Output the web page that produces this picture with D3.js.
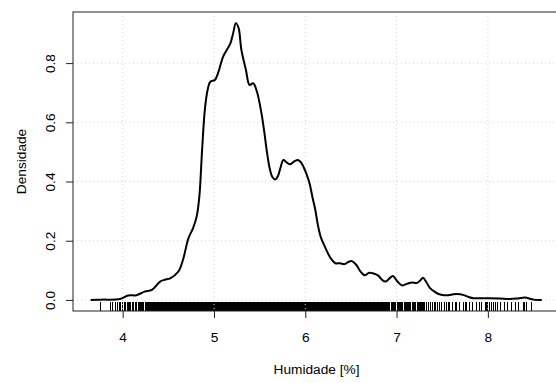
<!DOCTYPE html>
<html>
<head>
<meta charset="utf-8">
<script src="https://cdn.jsdelivr.net/npm/d3@7"></script>
<style>
  body { margin: 0; background: #fff; }
  svg { display: block; }
  text { font-family: "Liberation Sans", Arial, Helvetica, sans-serif; fill: #000; }
</style>
</head>
<body>
<svg id="chart" width="556" height="383"></svg>
<script>
// Kernel density estimate of humidity (%)
const densityX = [3.65, 3.77, 3.97, 4.06, 4.15, 4.24, 4.32, 4.41, 4.46, 4.52, 4.61, 4.66, 4.72, 4.77, 4.81,
  4.84, 4.87, 4.90, 4.93, 4.96, 5.01, 5.05, 5.10, 5.18, 5.21, 5.24, 5.27, 5.30, 5.35, 5.39, 5.43, 5.47,
  5.52, 5.55, 5.58, 5.61, 5.64, 5.67, 5.70, 5.73, 5.76, 5.79, 5.83, 5.88, 5.92, 5.95, 5.98, 6.02, 6.05,
  6.08, 6.11, 6.14, 6.17, 6.20, 6.23, 6.28, 6.33, 6.38, 6.43, 6.47, 6.51, 6.56, 6.60, 6.65, 6.70, 6.74,
  6.80, 6.84, 6.88, 6.92, 6.96, 7.01, 7.06, 7.12, 7.17, 7.22, 7.26, 7.29, 7.33, 7.37, 7.42, 7.46, 7.52,
  7.57, 7.62, 7.66, 7.73, 7.79, 7.84, 7.93, 8.02, 8.13, 8.24, 8.33, 8.41, 8.46, 8.50, 8.59];
const densityY = [0.000, 0.001, 0.003, 0.015, 0.016, 0.028, 0.034, 0.062, 0.068, 0.073, 0.096, 0.135, 0.208, 0.242, 0.281,
  0.350, 0.507, 0.642, 0.709, 0.737, 0.743, 0.771, 0.822, 0.867, 0.901, 0.935, 0.918, 0.845, 0.777, 0.726, 0.732, 0.704,
  0.631, 0.570, 0.500, 0.445, 0.415, 0.407, 0.418, 0.448, 0.473, 0.466, 0.458, 0.468, 0.473, 0.466, 0.450, 0.420, 0.390,
  0.345, 0.304, 0.250, 0.212, 0.190, 0.169, 0.140, 0.124, 0.124, 0.121, 0.128, 0.131, 0.118, 0.098, 0.083, 0.092, 0.090,
  0.082, 0.068, 0.062, 0.072, 0.081, 0.062, 0.049, 0.055, 0.059, 0.057, 0.066, 0.075, 0.058, 0.039, 0.027, 0.020, 0.016,
  0.016, 0.019, 0.020, 0.017, 0.010, 0.006, 0.006, 0.006, 0.005, 0.003, 0.005, 0.008, 0.004, 0.001, 0.000];

// Distinct observed humidity values, in hundredths of a percent
const observedHundredths = [376, 387, 389, 392, 394, 396, 398, 400,
  402, 403, 405, 406, 408, 409, 411, 412, 414, 415, 417, 418, 419, 421, 422, 423, 425, 426, 427, 428,
  429, 430, 431, 432, 433, 434, 435,
  436, 437, 438, 439, 440, 441, 442, 443, 444, 445, 446, 447, 448, 449,
  450, 451, 452, 453, 454, 455, 456, 457, 458, 459, 460, 461, 462, 463, 464, 465, 466, 467, 468, 469,
  470, 471, 472, 473, 474, 475, 476, 477, 478, 479, 480, 481, 482, 483, 484, 485, 486, 487, 488, 489,
  490, 491, 492, 493, 494, 495, 496, 497, 498, 499, 500, 501, 502, 503, 504, 505, 506, 507, 508, 509,
  510, 511, 512, 513, 514, 515, 516, 517, 518, 519, 520, 521, 522, 523, 524, 525, 526, 527, 528, 529,
  530, 531, 532, 533, 534, 535, 536, 537, 538, 539, 540, 541, 542, 543, 544, 545, 546, 547, 548, 549,
  550, 551, 552, 553, 554, 555, 556, 557, 558, 559, 560, 561, 562, 563, 564, 565, 566, 567, 568, 569,
  570, 571, 572, 573, 574, 575, 576, 577, 578, 579, 580, 581, 582, 583, 584, 585, 586, 587, 588, 589,
  590, 591, 592, 593, 594, 595, 596, 597, 598, 599, 600, 601, 602, 603, 604, 605, 606, 607, 608, 609,
  610, 611, 612, 613, 614, 615, 616, 617, 618, 619, 620, 621, 622, 623, 624, 625, 626, 627, 628, 629,
  630, 631, 632, 633, 634, 635, 636, 637, 638, 639, 640, 641, 642, 643, 644, 645, 646, 647, 648, 649,
  650, 651, 652, 653, 654, 655, 656, 657, 658, 659, 660, 661, 662, 663, 664, 665, 666, 667, 668, 669,
  670, 671, 672, 673, 674, 675, 676, 677, 678, 679, 680, 681, 682, 683, 684, 685, 686,
  687, 688, 689, 690, 691, 692, 694, 695, 696, 697, 698, 699, 701, 702, 703, 704, 705, 706, 707,
  709, 710, 711, 712, 713, 714, 715, 717, 718, 719, 720, 721, 723, 724, 725, 726, 727, 728, 729, 730,
  731, 733, 735, 737, 739, 741, 743, 745, 747,
  749, 752, 755, 757, 758, 761, 764, 766, 769, 773, 776, 777, 780, 783, 788, 791, 793, 797, 799, 800,
  802, 804, 806, 808, 811, 814, 818, 821, 826, 830, 834, 839, 840, 842, 848];

const xTicks = [4, 5, 6, 7, 8];
const yTicks = [0, 0.2, 0.4, 0.6, 0.8];
const yTickLabels = ["0.0", "0.2", "0.4", "0.6", "0.8"];
const xTitle = "Humidade [%]";
const yTitle = "Densidade";

const svg = d3.select("#chart");
const plotLeft = 73, plotRight = 560, plotTop = 12, plotBottom = 311;

const x = d3.scaleLinear().domain([3.456, 8.79]).range([plotLeft, plotRight]);
const y = d3.scaleLinear().domain([-0.0374, 0.9726]).range([plotBottom, plotTop]);

svg.append("rect").attr("width", 556).attr("height", 383).attr("fill", "#fff");

// rug of observations along the bottom of the plot region
svg.append("g").attr("shape-rendering", "crispEdges")
  .selectAll("line").data(observedHundredths).join("line")
  .attr("x1", d => x(d / 100)).attr("x2", d => x(d / 100))
  .attr("y1", plotBottom).attr("y2", plotBottom - 9)
  .attr("stroke", "#000").attr("stroke-width", 1);

// dotted grid at the tick positions
const grid = svg.append("g").attr("stroke", "#d3d3d3").attr("stroke-width", 1)
  .attr("stroke-dasharray", "1,3");
grid.selectAll("line.v").data(xTicks).join("line").attr("class", "v")
  .attr("x1", d => x(d)).attr("x2", d => x(d)).attr("y1", plotTop).attr("y2", plotBottom);
grid.selectAll("line.h").data(yTicks).join("line").attr("class", "h")
  .attr("x1", plotLeft).attr("x2", plotRight).attr("y1", d => y(d)).attr("y2", d => y(d));

// density curve
const pts = densityX.map((v, i) => [v, densityY[i]]);
svg.append("path").datum(pts)
  .attr("fill", "none").attr("stroke", "#000").attr("stroke-width", 2)
  .attr("stroke-linejoin", "round")
  .attr("d", d3.line().x(d => x(d[0])).y(d => y(d[1])).curve(d3.curveCatmullRom.alpha(0.5)));

// plot frame
svg.append("rect").attr("x", plotLeft).attr("y", plotTop)
  .attr("width", plotRight - plotLeft).attr("height", plotBottom - plotTop)
  .attr("fill", "none").attr("stroke", "#222").attr("stroke-width", 1);

// axes
const xAxis = svg.append("g").attr("transform", `translate(0,${plotBottom})`)
  .call(d3.axisBottom(x).tickValues(xTicks).tickSize(7).tickFormat(d3.format("d")));
xAxis.select(".domain").remove();
xAxis.selectAll("line").attr("stroke", "#222");
xAxis.selectAll("text").attr("y", 31).attr("dy", 0)
  .style("font-size", "13.7px").style("font-family", "'Liberation Sans', Arial, sans-serif");

const yAxis = svg.append("g").attr("transform", `translate(${plotLeft},0)`)
  .call(d3.axisLeft(y).tickValues(yTicks).tickSize(7).tickFormat((d, i) => yTickLabels[i]));
yAxis.select(".domain").remove();
yAxis.selectAll("line").attr("stroke", "#222");
yAxis.selectAll("text")
  .attr("transform", "rotate(-90)")
  .attr("x", 0).attr("y", -18).attr("dy", 0)
  .attr("text-anchor", "middle")
  .style("font-size", "13.7px").style("font-family", "'Liberation Sans', Arial, sans-serif");

// axis titles
svg.append("text").attr("x", (plotLeft + plotRight) / 2).attr("y", 374)
  .attr("text-anchor", "middle").style("font-size", "13.7px").text(xTitle);
svg.append("text").attr("transform", `translate(26,${(plotTop + plotBottom) / 2}) rotate(-90)`)
  .attr("text-anchor", "middle").style("font-size", "13.7px").text(yTitle);
</script>
</body>
</html>
